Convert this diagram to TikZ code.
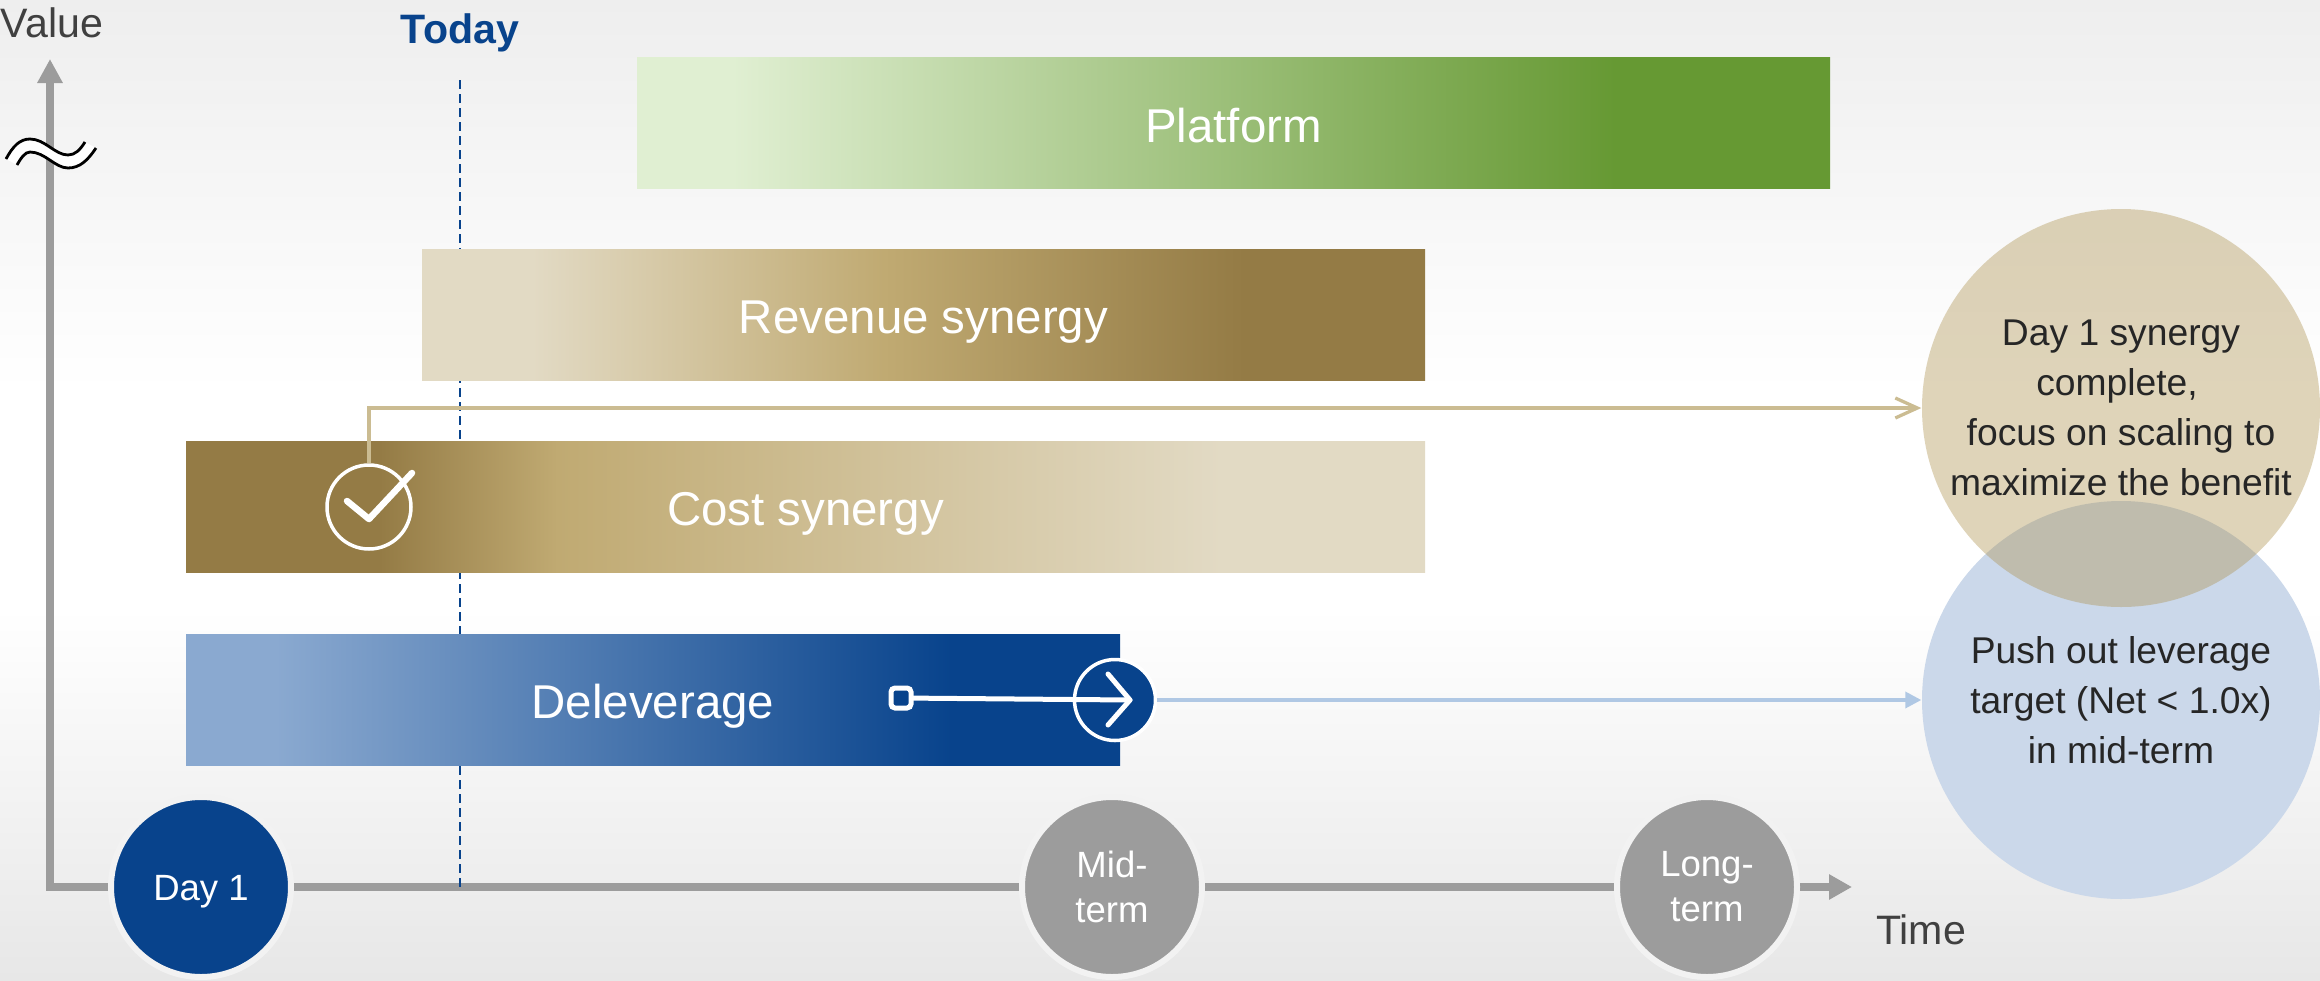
\documentclass[tikz,border=0pt]{standalone}
\usepackage{fontspec}
\setmainfont{Liberation Sans}
\usepackage{xcolor}
\usetikzlibrary{arrows.meta,calc,positioning}
\definecolor{navy}{HTML}{08438C}
\definecolor{axisgray}{HTML}{9C9C9C}
\definecolor{halogray}{HTML}{F2F2F2}
\definecolor{labelgray}{HTML}{404040}
\definecolor{bubbletext}{HTML}{262626}
\definecolor{goldline}{HTML}{CBBC92}
\definecolor{blueline}{HTML}{B0C8E4}
\definecolor{bluebubble}{HTML}{CBD8EA}
\definecolor{goldbubble}{HTML}{AF9452}
\definecolor{greenA}{HTML}{E0EFD2}
\definecolor{greenB}{HTML}{669933}
\definecolor{goldA}{HTML}{E2DAC4}
\definecolor{goldM}{HTML}{C0AA72}
\definecolor{goldB}{HTML}{947B45}
\definecolor{blueA}{HTML}{8AA9D0}
\definecolor{bgtop}{HTML}{EEEEEE}
\definecolor{bgbot}{HTML}{E7E7E7}
\pgfdeclareverticalshading{backfade}{100bp}{color(0bp)=(bgbot); color(25bp)=(bgbot); color(44bp)=(white); color(55bp)=(white); color(75bp)=(bgtop); color(100bp)=(bgtop)}
\pgfdeclarehorizontalshading{platformfade}{100bp}{color(0bp)=(greenA); color(29bp)=(greenA); color(66bp)=(greenB); color(100bp)=(greenB)}
\pgfdeclarehorizontalshading{revenuefade}{100bp}{color(0bp)=(goldA); color(30.5bp)=(goldA); color(48bp)=(goldM); color(66bp)=(goldB); color(100bp)=(goldB)}
\pgfdeclarehorizontalshading{costfade}{100bp}{color(0bp)=(goldB); color(32.8bp)=(goldB); color(40bp)=(goldM); color(66.8bp)=(goldA); color(100bp)=(goldA)}
\pgfdeclarehorizontalshading{deleveragefade}{100bp}{color(0bp)=(blueA); color(29.8bp)=(blueA); color(66bp)=(navy); color(100bp)=(navy)}
\tikzset{
  axisline/.style={draw=axisgray,line width=.08cm,line join=miter},
  axislabel/.style={text=labelgray,font=\fontsize{11.7}{14}\selectfont},
  barbox/.style={shade,text=white,inner sep=0pt,text height=.42cm,text depth=.04cm,
    font=\fontsize{13.5}{16}\selectfont},
  termdot/.style={circle,draw=halogray,line width=.06cm,minimum size=1.8cm,inner sep=0pt,
    text=white,align=center,font=\fontsize{10.4}{12.8}\selectfont},
  bubble/.style={circle,minimum size=3.98cm,inner sep=0pt,text=bubbletext,align=center,
    font=\fontsize{10.6}{14.2}\selectfont},
  iconring/.style={circle,draw=white,line width=.035cm,inner sep=0pt},
  iconline/.style={draw=white,line cap=round,line join=round}
}
\begin{document}
\begin{tikzpicture}
  \useasboundingbox (0,0) rectangle (23.2,9.8);
  \shade[shading=backfade] (0,0) rectangle (23.2,9.8);
  % Axes
  \coordinate (origin) at (.5,.93);
  \coordinate (valueend) at (.5,9.21);
  \coordinate (timeend) at (18.52,.93);
  \node[axislabel] (valuelabel) at (.52,9.57) {Value};
  \node[axislabel] (timelabel) at (19.21,.5) {Time};
  \draw[axisline,{Triangle[length=.24cm,width=.24cm]}-{Triangle[length=.23cm,width=.24cm]}]
    (valueend) -- (origin) -- (timeend);
  % Break in the value axis
  \fill[white] (.06,8.21) .. controls (.13,8.34) and (.20,8.41) .. (.30,8.41)
    .. controls (.45,8.41) and (.55,8.25) .. (.68,8.25)
    .. controls (.75,8.25) and (.80,8.30) .. (.85,8.38)
    -- (.96,8.32) .. controls (.88,8.20) and (.80,8.12) .. (.68,8.12)
    .. controls (.55,8.12) and (.45,8.28) .. (.30,8.28)
    .. controls (.25,8.28) and (.21,8.22) .. (.17,8.15) -- cycle;
  \draw[line width=.028cm] (.06,8.21) .. controls (.13,8.34) and (.20,8.41) .. (.30,8.41)
    .. controls (.45,8.41) and (.55,8.25) .. (.68,8.25)
    .. controls (.75,8.25) and (.80,8.30) .. (.85,8.38);
  \draw[line width=.028cm] (.96,8.32) .. controls (.88,8.20) and (.80,8.12) .. (.68,8.12)
    .. controls (.55,8.12) and (.45,8.28) .. (.30,8.28)
    .. controls (.25,8.28) and (.21,8.22) .. (.17,8.15);
  % Today marker
  \node[text=navy,font=\bfseries\fontsize{11.7}{14}\selectfont] (today) at (4.60,9.47) {Today};
  \coordinate (todaytop) at (4.60,9.0);
  \coordinate (todaybot) at (4.60,.93);
  \draw[navy,line width=.02cm,dash pattern=on .09cm off .05cm] (todaytop) -- (todaybot);
  % Bars
  \node[barbox,shading=platformfade,minimum width=11.93cm,minimum height=1.31cm] (platform) at (12.335,8.57) {Platform};
  \node[barbox,shading=revenuefade,minimum width=10.03cm,minimum height=1.31cm] (revenue) at (9.235,6.655) {Revenue synergy};
  \node[barbox,shading=costfade,minimum width=12.39cm,minimum height=1.31cm] (cost) at (8.055,4.735) {Cost synergy};
  \node[barbox,shading=deleveragefade,minimum width=9.34cm,minimum height=1.31cm] (deleverage) at (6.53,2.805) {Deleverage};
  % Time marks
  \node[termdot,fill=navy,text height=.26cm,text depth=0cm] (dayone) at (2.01,.93) {Day 1};
  \node[termdot,fill=axisgray] (midterm) at (11.12,.93) {Mid-\\term};
  \node[termdot,fill=axisgray] (longterm) at (17.07,.93) {Long-\\term};
  % Outcome bubbles
  \node[bubble,fill=bluebubble] (pushout) at (21.21,2.80) {Push out leverage\\target (Net < 1.0x)\\in mid-term};
  \node[bubble,fill=goldbubble,fill opacity=.4,text opacity=1] (complete) at (21.21,5.72)
    {Day 1 synergy\\complete,\kern.08cm\\focus on scaling to\\maximize the benefit};
  % Check icon and its connector
  \node[iconring,minimum size=.84cm] (check) at (3.69,4.73) {};
  \draw[goldline,line width=.033cm,-{Straight Barb[length=.22cm,width=.2cm,line width=.033cm]}]
    (check.north) |- (complete.west);
  \draw[iconline,line width=.065cm] (3.47,4.79) -- (3.69,4.61) -- (4.12,5.07);
  % Arrow icon and its connector
  \node[iconring,fill=navy,minimum size=.81cm] (disc) at (11.15,2.80) {};
  \draw[blueline,line width=.035cm,-{Triangle[length=.16cm,width=.16cm]}] (disc.east) -- (pushout.west);
  \node[draw=white,fill=navy,line width=.05cm,rounded corners=.04cm,minimum size=.2cm,inner sep=0pt] (startsq) at (9.01,2.82) {};
  \coordinate (disctip) at (11.30,2.80);
  \draw[iconline,line width=.05cm] (startsq) -- (disctip);
  \draw[iconline,line width=.05cm] (11.08,3.06) -- (disctip) -- (11.08,2.55);
\end{tikzpicture}
\end{document}
